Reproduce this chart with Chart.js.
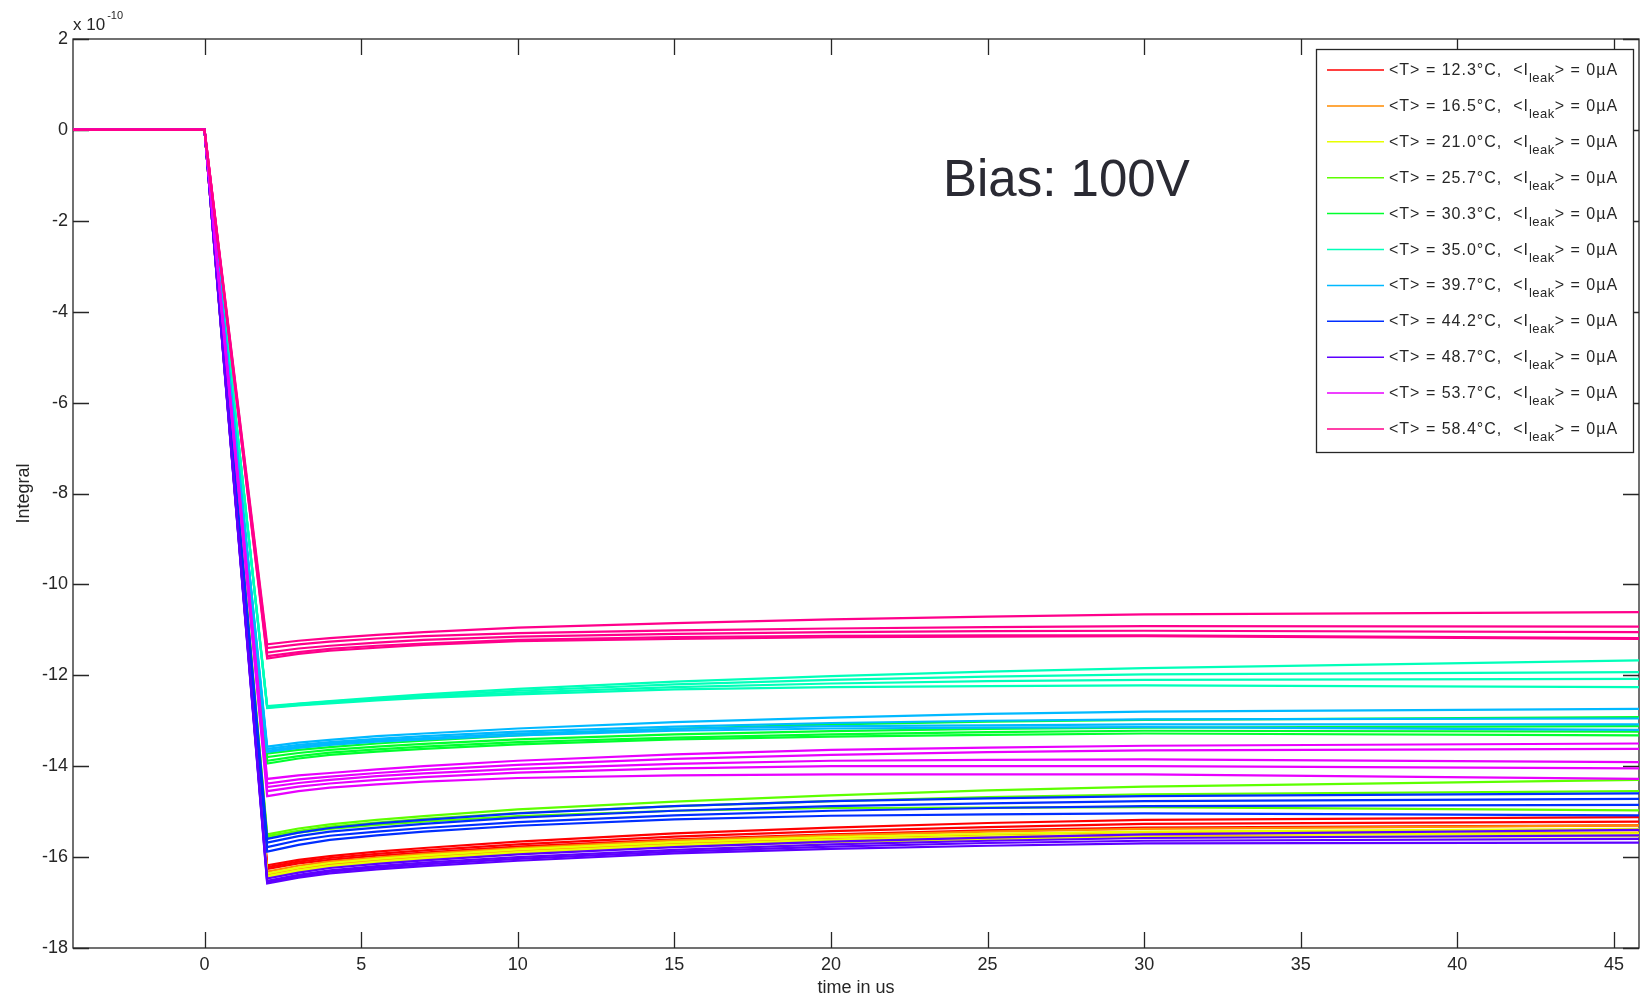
<!DOCTYPE html>
<html>
<head>
<meta charset="utf-8">
<script src="https://cdn.jsdelivr.net/npm/chart.js@4.4.1/dist/chart.umd.min.js"></script>
<style>
  html, body { margin: 0; padding: 0; background: #fff; }
</style>
</head>
<body>
<canvas id="chart" width="1644" height="997"></canvas>
<script>
// sample times (us) and integral values (x 1e-10)
const times = [-4.2, 0, 2, 3, 4, 5.5, 7, 10, 15, 20, 25, 30, 45.8];
const xTicks = [0, 5, 10, 15, 20, 25, 30, 35, 40, 45];
const yTicks = [-18, -16, -14, -12, -10, -8, -6, -4, -2, 0, 2];
const temps = ['12.3', '16.5', '21.0', '25.7', '30.3', '35.0', '39.7', '44.2', '48.7', '53.7', '58.4'];
const colors = ['#FF0000', '#FF8B00', '#E8FF00', '#5DFF00', '#00FF2E', '#00FFB9',
                '#00B9FF', '#002EFF', '#5D00FF', '#E800FF', '#FF008B'];

// one row per recorded trace, per temperature
const run12_3 = [
  [0, 0, -16.18, -16.06, -15.98, -15.88, -15.80, -15.66, -15.48, -15.35, -15.25, -15.18, -15.12],
  [0, 0, -16.22, -16.10, -16.02, -15.93, -15.85, -15.72, -15.55, -15.43, -15.34, -15.27, -15.22],
  [0, 0, -16.26, -16.14, -16.06, -15.97, -15.90, -15.77, -15.61, -15.50, -15.41, -15.35, -15.30]
];
const run16_5 = [
  [0, 0, -16.32, -16.19, -16.10, -16.01, -15.93, -15.80, -15.63, -15.52, -15.44, -15.38, -15.30],
  [0, 0, -16.38, -16.25, -16.16, -16.07, -15.99, -15.86, -15.70, -15.58, -15.50, -15.45, -15.40],
  [0, 0, -16.43, -16.30, -16.20, -16.11, -16.04, -15.91, -15.75, -15.64, -15.57, -15.52, -15.46]
];
const run21_0 = [
  [0, 0, -16.36, -16.23, -16.13, -16.04, -15.96, -15.83, -15.67, -15.56, -15.49, -15.44, -15.38],
  [0, 0, -16.42, -16.29, -16.19, -16.10, -16.02, -15.89, -15.73, -15.62, -15.55, -15.50, -15.48],
  [0, 0, -16.45, -16.32, -16.22, -16.13, -16.06, -15.93, -15.77, -15.67, -15.61, -15.56, -15.54]
];
const run25_7 = [
  [0, 0, -15.50, -15.37, -15.28, -15.18, -15.10, -14.95, -14.78, -14.64, -14.53, -14.45, -14.30],
  [0, 0, -15.54, -15.42, -15.33, -15.24, -15.16, -15.03, -14.88, -14.77, -14.68, -14.62, -14.55],
  [0, 0, -15.58, -15.46, -15.38, -15.29, -15.22, -15.10, -14.98, -14.92, -14.91, -14.90, -14.97]
];
const run30_3 = [
  [0, 0, -13.72, -13.64, -13.58, -13.50, -13.44, -13.32, -13.18, -13.08, -13.02, -12.98, -12.92],
  [0, 0, -13.80, -13.71, -13.64, -13.57, -13.51, -13.41, -13.30, -13.23, -13.18, -13.15, -13.12],
  [0, 0, -13.88, -13.78, -13.70, -13.63, -13.57, -13.47, -13.37, -13.30, -13.25, -13.22, -13.24],
  [0, 0, -13.94, -13.83, -13.75, -13.68, -13.62, -13.52, -13.41, -13.35, -13.31, -13.28, -13.32]
];
const run35_0 = [
  [0, 0, -12.68, -12.62, -12.57, -12.49, -12.42, -12.30, -12.14, -12.02, -11.92, -11.84, -11.67],
  [0, 0, -12.70, -12.63, -12.58, -12.51, -12.45, -12.34, -12.20, -12.10, -12.03, -11.98, -11.93],
  [0, 0, -12.71, -12.65, -12.60, -12.53, -12.48, -12.38, -12.26, -12.18, -12.13, -12.10, -12.08],
  [0, 0, -12.72, -12.66, -12.62, -12.55, -12.50, -12.42, -12.31, -12.26, -12.24, -12.22, -12.26]
];
const run39_7 = [
  [0, 0, -13.57, -13.48, -13.42, -13.34, -13.28, -13.17, -13.03, -12.93, -12.85, -12.80, -12.74],
  [0, 0, -13.62, -13.53, -13.47, -13.40, -13.34, -13.24, -13.13, -13.05, -13.00, -12.97, -12.95],
  [0, 0, -13.66, -13.57, -13.50, -13.43, -13.38, -13.28, -13.18, -13.12, -13.10, -13.08, -13.08],
  [0, 0, -13.69, -13.60, -13.53, -13.46, -13.41, -13.32, -13.22, -13.17, -13.15, -13.14, -13.20]
];
const run44_2 = [
  [0, 0, -15.60, -15.46, -15.36, -15.26, -15.18, -15.04, -14.88, -14.77, -14.71, -14.66, -14.60],
  [0, 0, -15.68, -15.54, -15.44, -15.35, -15.27, -15.13, -14.98, -14.88, -14.82, -14.77, -14.72],
  [0, 0, -15.78, -15.63, -15.53, -15.44, -15.36, -15.23, -15.08, -14.98, -14.92, -14.88, -14.85],
  [0, 0, -15.88, -15.73, -15.62, -15.52, -15.44, -15.31, -15.17, -15.09, -15.06, -15.04, -15.08]
];
const run48_7 = [
  [0, 0, -16.47, -16.34, -16.24, -16.15, -16.07, -15.94, -15.78, -15.66, -15.57, -15.50, -15.40],
  [0, 0, -16.52, -16.39, -16.29, -16.20, -16.12, -16.00, -15.84, -15.72, -15.64, -15.58, -15.52],
  [0, 0, -16.55, -16.42, -16.32, -16.23, -16.16, -16.04, -15.88, -15.77, -15.69, -15.64, -15.60],
  [0, 0, -16.58, -16.45, -16.36, -16.27, -16.20, -16.08, -15.92, -15.82, -15.75, -15.70, -15.68]
];
const run53_7 = [
  [0, 0, -14.28, -14.20, -14.15, -14.07, -14.00, -13.88, -13.74, -13.64, -13.59, -13.55, -13.50],
  [0, 0, -14.38, -14.29, -14.23, -14.15, -14.08, -13.97, -13.84, -13.75, -13.69, -13.65, -13.62],
  [0, 0, -14.46, -14.37, -14.30, -14.22, -14.16, -14.06, -13.95, -13.88, -13.86, -13.85, -13.91],
  [0, 0, -14.55, -14.45, -14.38, -14.30, -14.24, -14.14, -14.05, -14.00, -14.00, -14.00, -14.05],
  [0, 0, -14.66, -14.55, -14.47, -14.40, -14.34, -14.26, -14.20, -14.18, -14.18, -14.18, -14.28]
];
const run58_4 = [
  [0, 0, -11.32, -11.24, -11.18, -11.11, -11.05, -10.95, -10.85, -10.77, -10.71, -10.66, -10.61],
  [0, 0, -11.40, -11.32, -11.26, -11.19, -11.14, -11.07, -11.01, -10.97, -10.94, -10.92, -10.93],
  [0, 0, -11.50, -11.41, -11.35, -11.28, -11.22, -11.15, -11.09, -11.05, -11.03, -11.02, -11.05],
  [0, 0, -11.58, -11.49, -11.42, -11.35, -11.30, -11.22, -11.16, -11.13, -11.12, -11.12, -11.18],
  [0, 0, -11.63, -11.53, -11.46, -11.39, -11.33, -11.25, -11.20, -11.16, -11.15, -11.14, -11.20]
];

const groups = [run12_3, run16_5, run21_0, run25_7, run30_3, run35_0,
                run39_7, run44_2, run48_7, run53_7, run58_4];

const FONT = '"Liberation Sans", Arial, Helvetica, sans-serif';
const INK = '#262626';

const datasets = [];
groups.forEach((runs, gi) => {
  runs.forEach(vals => {
    datasets.push({
      data: times.map((t, k) => ({ x: t, y: vals[k] })),
      borderColor: colors[gi],
      borderWidth: 2.2,
      pointRadius: 0,
      tension: 0,
      fill: false,
      order: -gi   // later temperatures drawn on top, like the original
    });
  });
});

// axes box with inward ticks, drawn under the traces
const axesBox = {
  id: 'axesBox',
  beforeDatasetsDraw(chart) {
    const { ctx, chartArea: a, scales } = chart;
    const tl = 16;
    ctx.save();
    ctx.strokeStyle = INK;
    ctx.lineWidth = 1.3;
    ctx.strokeRect(a.left, a.top, a.right - a.left, a.bottom - a.top);
    ctx.beginPath();
    xTicks.forEach(v => {
      const px = Math.round(scales.x.getPixelForValue(v)) + 0.5;
      ctx.moveTo(px, a.bottom); ctx.lineTo(px, a.bottom - tl);
      ctx.moveTo(px, a.top); ctx.lineTo(px, a.top + tl);
    });
    yTicks.forEach(v => {
      const py = Math.round(scales.y.getPixelForValue(v)) + 0.5;
      ctx.moveTo(a.left, py); ctx.lineTo(a.left + tl, py);
      ctx.moveTo(a.right, py); ctx.lineTo(a.right - tl, py);
    });
    ctx.stroke();
    ctx.restore();
  }
};

// exponent, annotation and legend
const overlay = {
  id: 'overlay',
  afterDraw(chart) {
    const { ctx, chartArea: a } = chart;
    ctx.save();
    ctx.fillStyle = INK;
    ctx.textBaseline = 'alphabetic';
    ctx.textAlign = 'left';
    ctx.font = '17px ' + FONT;
    ctx.fillText('x 10', a.left, 30);
    const w = ctx.measureText('x 10').width;
    ctx.font = '11px ' + FONT;
    ctx.fillText('-10', a.left + w + 2, 19);

    ctx.fillStyle = '#2a2a33';
    ctx.font = '51px ' + FONT;
    ctx.fillText('Bias: 100V', 943, 196);

    // legend
    const bx = 1316, by = 49, bw = 317, bh = 403;
    ctx.fillStyle = '#fff';
    ctx.fillRect(bx, by, bw, bh);
    ctx.strokeStyle = INK;
    ctx.lineWidth = 1.3;
    ctx.strokeRect(bx + 0.5, by + 0.5, bw, bh);
    temps.forEach((t, i) => {
      const ly = 70 + i * 35.9;
      ctx.strokeStyle = colors[i];
      ctx.lineWidth = 1.5;
      ctx.beginPath();
      ctx.moveTo(1327, ly); ctx.lineTo(1384, ly);
      ctx.stroke();
      ctx.fillStyle = INK;
      ctx.letterSpacing = '1px';
      let x = 1389;
      const yb = ly + 5;
      const head = '<T> = ' + t + '\u00B0C,  <I';
      ctx.font = '16px ' + FONT;
      ctx.fillText(head, x, yb);
      x += ctx.measureText(head).width;
      ctx.font = '13px ' + FONT;
      ctx.letterSpacing = '0.5px';
      ctx.fillText('leak', x, yb + 7);
      x += ctx.measureText('leak').width;
      ctx.font = '16px ' + FONT;
      ctx.letterSpacing = '1px';
      ctx.fillText('> = 0\u00B5A', x, yb);
    });
    ctx.letterSpacing = '0px';
    ctx.restore();
  }
};

new Chart(document.getElementById('chart'), {
  type: 'line',
  data: { datasets },
  options: {
    responsive: false,
    animation: false,
    devicePixelRatio: 1,
    layout: { padding: { top: 39, right: 5, left: 0, bottom: 0 } },
    plugins: { legend: { display: false }, tooltip: { enabled: false } },
    scales: {
      x: {
        type: 'linear',
        min: -4.2,
        max: 45.8,
        afterBuildTicks: s => { s.ticks = xTicks.map(v => ({ value: v })); },
        afterFit: s => { s.height = 49; },
        grid: { display: false, drawTicks: false },
        border: { display: false },
        ticks: { font: { family: FONT, size: 18 }, color: INK, padding: 6, maxRotation: 0, autoSkip: false,
                 callback: v => String(v) },
        title: { display: true, text: 'time in us', font: { family: FONT, size: 18 }, color: INK,
                 padding: { top: 0, bottom: -2 } }
      },
      y: {
        type: 'linear',
        min: -18,
        max: 2,
        afterBuildTicks: s => { s.ticks = yTicks.map(v => ({ value: v })); },
        afterFit: s => { s.width = 73; },
        grid: { display: false, drawTicks: false },
        border: { display: false },
        ticks: { font: { family: FONT, size: 18 }, color: INK, padding: 5, autoSkip: false,
                 callback: v => String(v) },
        title: { display: true, text: 'Integral', font: { family: FONT, size: 18 }, color: INK,
                 padding: { top: 13, bottom: 0 } }
      }
    }
  },
  plugins: [axesBox, overlay]
});
</script>
</body>
</html>
